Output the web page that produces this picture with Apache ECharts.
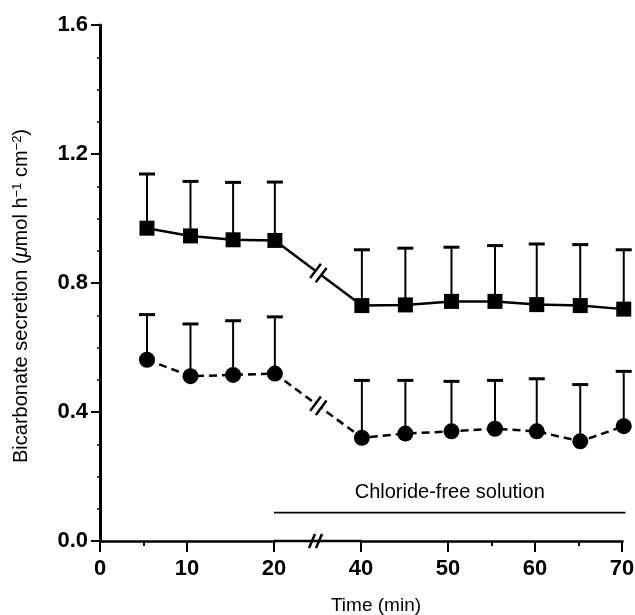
<!DOCTYPE html>
<html>
<head>
<meta charset="utf-8">
<script src="https://cdn.jsdelivr.net/npm/echarts@6/dist/echarts.min.js"></script>
<style>
  html, body { margin: 0; padding: 0; background: #fff; }
  #chart { width: 635px; height: 615px; }
</style>
</head>
<body>
<div id="chart"></div>
<script>
// Sampling times (min); the stretch between 20 and 40 min is cut out of the axis
const times = [5.4, 10.4, 15.3, 20.2, 40.1, 45.1, 50.4, 55.4, 60.2, 65.2, 70.2];
// Bicarbonate secretion (µmol h-1 cm-2): means and SEM of the two groups
const squareMean = [0.970, 0.946, 0.934, 0.932, 0.730, 0.732, 0.743, 0.743, 0.733, 0.730, 0.719];
const squareSem  = [0.168, 0.169, 0.178, 0.181, 0.173, 0.176, 0.168, 0.173, 0.188, 0.189, 0.184];
const circleMean = [0.562, 0.511, 0.515, 0.519, 0.320, 0.333, 0.340, 0.348, 0.340, 0.309, 0.356];
const circleSem  = [0.140, 0.162, 0.168, 0.176, 0.178, 0.165, 0.155, 0.150, 0.163, 0.176, 0.170];
// Axis ticks
const xTicks = [0, 10, 20, 40, 50, 60, 70];
const yTicks = [0.0, 0.4, 0.8, 1.2, 1.6];
// Omitted part of the time axis and the width (min) it keeps on the axis
const axisGap = [20, 40];
const axisGapWidth = 10;
// Period with chloride-free bathing solution
const periodStart = 20;
const periodEnd = 70.4;
const periodLevel = 0.088;
const periodLabel = 'Chloride-free solution';

const FONT = '"Liberation Sans", Arial, Helvetica, sans-serif';
const INK = '#000';

const chart = echarts.init(document.getElementById('chart'), null, { renderer: 'canvas' });

const pts = (means) => times.map((t, i) => [t, means[i]]);
const bars = (means, sems) => times.map((t, i) => [t, means[i], means[i] + sems[i]]);

// Upper SEM whisker with a cap
function errorBarItem(params, api) {
  const x = api.value(0);
  const p0 = api.coord([x, api.value(1)]);
  const p1 = api.coord([x, api.value(2)]);
  const half = 8;
  return {
    type: 'group',
    children: [
      { type: 'line', shape: { x1: p0[0], y1: p0[1], x2: p1[0], y2: p1[1] },
        style: { stroke: INK, lineWidth: 2 } },
      { type: 'line', shape: { x1: p1[0] - half, y1: p1[1], x2: p1[0] + half, y2: p1[1] },
        style: { stroke: INK, lineWidth: 3 } }
    ]
  };
}

// "//" interruption drawn across the segment that spans the axis gap
function lineBreakItem(params, api) {
  const a = api.coord([api.value(0), api.value(1)]);
  const b = api.coord([api.value(2), api.value(3)]);
  const mx = (a[0] + b[0]) / 2, my = (a[1] + b[1]) / 2;
  const len = Math.hypot(b[0] - a[0], b[1] - a[1]);
  const dx = (b[0] - a[0]) / len, dy = (b[1] - a[1]) / len;
  const nx = -dy, ny = dx;
  const off = 3.5, L = 9;
  const children = [
    { type: 'line', shape: { x1: mx - dx * off, y1: my - dy * off, x2: mx + dx * off, y2: my + dy * off },
      style: { stroke: '#fff', lineWidth: 7 } }
  ];
  [-off, off].forEach((s) => {
    const cx = mx + dx * s, cy = my + dy * s;
    children.push({ type: 'line',
      shape: { x1: cx - nx * L, y1: cy - ny * L, x2: cx + nx * L, y2: cy + ny * L },
      style: { stroke: INK, lineWidth: 2.5 } });
  });
  return { type: 'group', children };
}

// Time axis carried across the gap, with "//" midway
function axisBreakItem(params, api) {
  const a = api.coord([api.value(0), api.value(2)]);
  const b = api.coord([api.value(1), api.value(2)]);
  const px = (a[0] + b[0]) / 2 - 2, py = a[1];
  const children = [
    { type: 'line', shape: { x1: a[0], y1: py, x2: b[0], y2: py },
      style: { stroke: INK, lineWidth: 2.5 } }
  ];
  [-3.5, 3.5].forEach((s) => {
    children.push({ type: 'line',
      shape: { x1: px + s - 3, y1: py + 7, x2: px + s + 3, y2: py - 7 },
      style: { stroke: INK, lineWidth: 2.5 } });
  });
  return { type: 'group', children };
}

// Bar marking the chloride-free period, with its caption
function periodItem(params, api) {
  const a = api.coord([api.value(0), api.value(2)]);
  const b = api.coord([api.value(1), api.value(2)]);
  return {
    type: 'group',
    children: [
      { type: 'line', shape: { x1: a[0], y1: a[1], x2: b[0], y2: b[1] },
        style: { stroke: INK, lineWidth: 1.6 } },
      { type: 'text', x: (a[0] + b[0]) / 2, y: a[1] - 20,
        style: { text: periodLabel, fill: INK, font: '20px ' + FONT,
                 align: 'center', verticalAlign: 'middle' } }
    ]
  };
}

const option = {
  backgroundColor: '#fff',
  animation: false,
  grid: { left: 100, right: 13, top: 25, bottom: 74, containLabel: false, outerBoundsMode: 'none' },
  xAxis: {
    type: 'value',
    min: 0,
    max: 70,
    interval: 10,
    breaks: [{ start: axisGap[0], end: axisGap[1], gap: axisGapWidth }],
    breakArea: { show: false },
    axisLine: { show: true, onZero: false, lineStyle: { color: INK, width: 2.5 } },
    axisTick: { show: true, length: 11, lineStyle: { color: INK, width: 2 } },
    minorTick: { show: true, splitNumber: 2, length: 5, lineStyle: { color: INK, width: 2 } },
    splitLine: { show: false },
    axisLabel: {
      color: INK, fontFamily: FONT, fontSize: 22, fontWeight: 'bold', margin: 17,
      hideOverlap: false,
      formatter: (v) => (xTicks.indexOf(v) >= 0 ? String(v) : '')
    }
  },
  yAxis: {
    type: 'value',
    min: 0,
    max: 1.6,
    interval: 0.4,
    axisLine: { show: true, onZero: false, lineStyle: { color: INK, width: 3 } },
    axisTick: { show: true, length: 9, lineStyle: { color: INK, width: 2 } },
    minorTick: { show: true, splitNumber: 4, length: 3, lineStyle: { color: INK, width: 1.5 } },
    splitLine: { show: false },
    axisLabel: {
      color: INK, fontFamily: FONT, fontSize: 22, fontWeight: 'bold', margin: 12,
      formatter: (v) => {
        const t = yTicks.find((y) => Math.abs(y - v) < 1e-6);
        return t === undefined ? '' : t.toFixed(1);
      }
    }
  },
  graphic: [
    {
      type: 'text', x: 21, y: 296, rotation: Math.PI / 2,
      style: {
        text: 'Bicarbonate secretion ({mu|μ}mol h{sup|−1} cm{sup|−2})',
        fill: INK, font: '20px ' + FONT, align: 'center', verticalAlign: 'middle',
        rich: {
          mu: { fontFamily: FONT, fontSize: 20, fontStyle: 'italic', fill: INK },
          sup: { fontFamily: FONT, fontSize: 13, verticalAlign: 'top', fill: INK }
        }
      }
    },
    {
      type: 'text', x: 376, y: 606,
      style: { text: 'Time (min)', fill: INK, font: '19px ' + FONT,
               align: 'center', verticalAlign: 'middle' }
    }
  ],
  series: [
    { type: 'custom', name: 'period', renderItem: periodItem, clip: false,
      data: [[periodStart, periodEnd, periodLevel]], z: 1, silent: true },
    { type: 'custom', name: 'squareSem', renderItem: errorBarItem, clip: false,
      data: bars(squareMean, squareSem), z: 2, silent: true },
    { type: 'custom', name: 'circleSem', renderItem: errorBarItem, clip: false,
      data: bars(circleMean, circleSem), z: 2, silent: true },
    { type: 'line', name: 'squares', data: pts(squareMean), z: 3, clip: false,
      symbol: 'rect', symbolSize: 15, showAllSymbol: true,
      lineStyle: { color: INK, width: 2.5 }, itemStyle: { color: INK } },
    { type: 'line', name: 'circles', data: pts(circleMean), z: 3, clip: false,
      symbol: 'circle', symbolSize: 16, showAllSymbol: true,
      lineStyle: { color: INK, width: 2.5, type: [8, 5] }, itemStyle: { color: INK } },
    { type: 'custom', name: 'lineBreaks', renderItem: lineBreakItem, z: 4, silent: true,
      data: [
        [times[3], squareMean[3], times[4], squareMean[4]],
        [times[3], circleMean[3], times[4], circleMean[4]]
      ] },
    { type: 'custom', name: 'axisBreak', renderItem: axisBreakItem, z: 5, silent: true, clip: false,
      data: [[axisGap[0], axisGap[1], 0]] }
  ]
};

chart.setOption(option);
</script>
</body>
</html>
